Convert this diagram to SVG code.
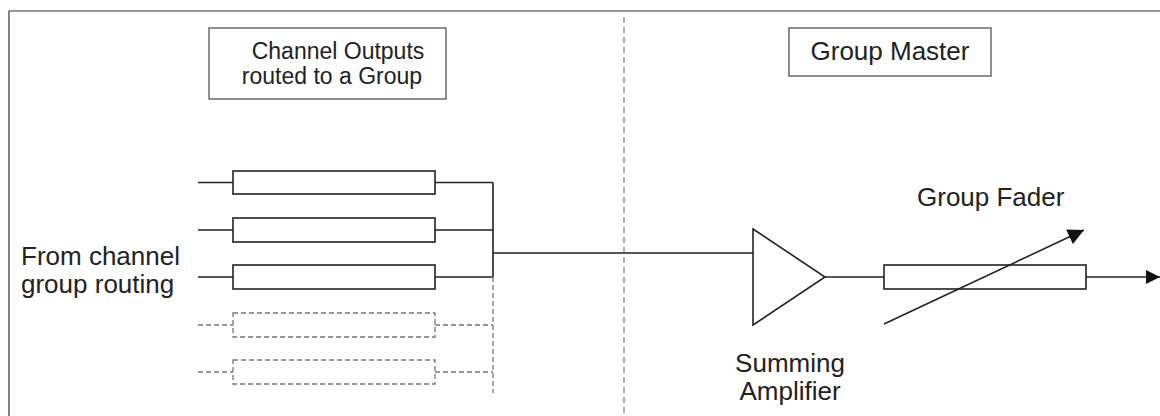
<svg xmlns="http://www.w3.org/2000/svg" width="1160" height="416" viewBox="0 0 1160 416">
<defs>
<style>
.t{font-family:"Liberation Sans",Arial,sans-serif;font-size:26px;fill:#222}
.ts{font-size:23px}
.box{fill:#fff;stroke:#444;stroke-width:1.2}
.res{fill:#fff;stroke:#222;stroke-width:1.6}
.resd{fill:#fff;stroke:#777;stroke-width:1.3;stroke-dasharray:5 3}
.w{fill:none;stroke:#222;stroke-width:1.6}
.wd{fill:none;stroke:#777;stroke-width:1.3;stroke-dasharray:5 3}
.frame{fill:none;stroke:#333;stroke-width:1.2}
.div{fill:none;stroke:#888;stroke-width:1.3;stroke-dasharray:6 4}
</style>
<marker id="ah2" viewBox="0 0 10 10" refX="10" refY="5" markerWidth="18" markerHeight="16" markerUnits="userSpaceOnUse" orient="auto">
<path d="M0,0 L10,5 L0,10 z" fill="#111"/>
</marker>
<marker id="ah3" viewBox="0 0 10 10" refX="10" refY="5" markerWidth="14" markerHeight="15" markerUnits="userSpaceOnUse" orient="auto">
<path d="M0,0 L10,5 L0,10 z" fill="#111"/>
</marker>
</defs>
<rect width="1160" height="416" fill="#fff"/>
<path class="frame" d="M9,416 L9,11 L1160,11"/>
<line class="div" x1="624" y1="17" x2="624" y2="416"/>

<g id="label-channel-outputs">
<rect class="box" x="209" y="28" width="237" height="71"/>
<text class="t ts" x="338" y="59" text-anchor="middle">Channel Outputs</text>
<text class="t ts" x="332" y="84" text-anchor="middle">routed to a Group</text>
</g>
<g id="label-group-master">
<rect class="box" x="789" y="28" width="202" height="48"/>
<text class="t" x="890" y="60" text-anchor="middle">Group Master</text>
</g>
<g id="label-from-channel">
<text class="t" x="21" y="265">From channel</text>
<text class="t" x="21" y="293">group routing</text>
</g>

<g id="connectors">
<path class="w" d="M198,182.5 H233 M435,182.5 H493 M198,230 H233 M435,230 H493 M198,277 H233 M435,277 H493 M493,182.5 V277 M493,253 H753 M825,277 H884"/>
<path class="wd" d="M198,325 H233 M435,325 H493 M198,372 H233 M435,372 H493 M493,277 V393"/>
<line class="w" x1="1086" y1="277" x2="1160" y2="277" marker-end="url(#ah3)"/>
</g>

<g id="ch1"><rect class="res" x="233" y="171" width="202" height="23"/></g>
<g id="ch2"><rect class="res" x="233" y="218" width="202" height="24"/></g>
<g id="ch3"><rect class="res" x="233" y="265" width="202" height="24"/></g>
<g id="ch4"><rect class="resd" x="233" y="313" width="202" height="24"/></g>
<g id="ch5"><rect class="resd" x="233" y="360" width="202" height="24"/></g>

<g id="summing-amplifier">
<path class="w" d="M753,229 L753,325 L825,277 Z" fill="#fff"/>
<text class="t" x="790" y="372" text-anchor="middle">Summing</text>
<text class="t" x="790" y="400" text-anchor="middle">Amplifier</text>
</g>

<g id="group-fader">
<rect class="res" x="884" y="265" width="202" height="24"/>
<line class="w" x1="884" y1="324" x2="1084" y2="230" marker-end="url(#ah2)"/>
<text class="t" x="917" y="206">Group Fader</text>
</g>
</svg>
